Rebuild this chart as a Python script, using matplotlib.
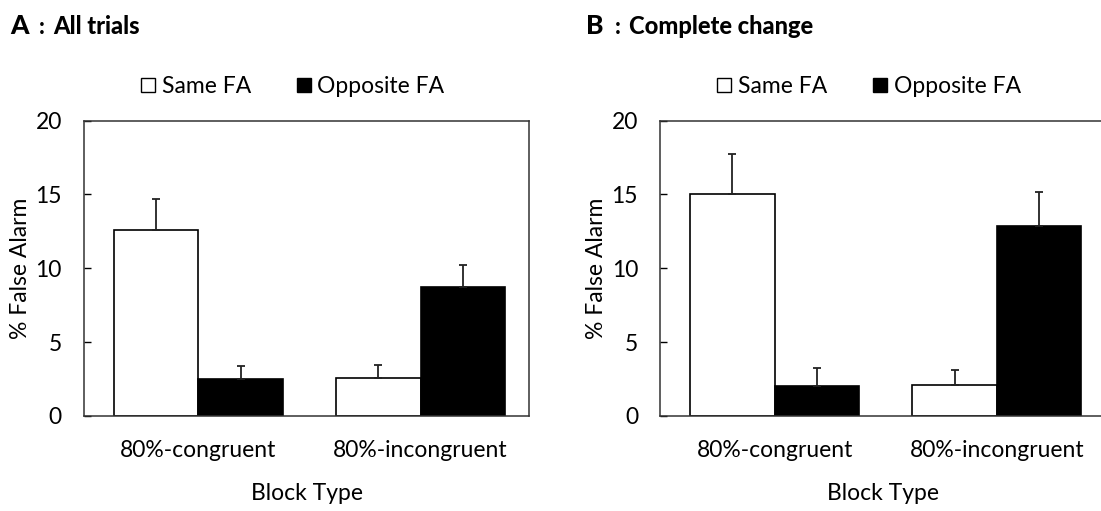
# Two-panel bar chart of false alarm rates by block type
import matplotlib.pyplot as plt
from matplotlib.patches import Patch
import numpy as np

plt.rcParams['font.family'] = ['Lato', 'DejaVu Sans']

# block types on the x axis
block_types = ['80%-congruent', '80%-incongruent']
series_names = ['Same FA', 'Opposite FA']

# panel A: all trials (mean and SE)
all_same = [12.6, 2.6]
all_same_err = [2.07, 0.88]
all_opp = [2.48, 8.76]
all_opp_err = [0.88, 1.47]

# panel B: complete change (mean and SE)
cc_same = [15.0, 2.12]
cc_same_err = [2.76, 1.02]
cc_opp = [2.03, 12.87]
cc_opp_err = [1.24, 2.28]

panels = [
    ('A', 'All trials', all_same, all_same_err, all_opp, all_opp_err),
    ('B', 'Complete change', cc_same, cc_same_err, cc_opp, cc_opp_err),
]

fig = plt.figure(figsize=(11.01, 5.11), dpi=100)

x = np.arange(len(block_types))
w = 0.38
lefts = [0.0763, 0.5997]
fs = 16.5

for left, (letter, name, same, same_err, opp, opp_err) in zip(lefts, panels):
    ax = fig.add_axes([left, 0.186, 0.4045, 0.578])
    ax.bar(x - w / 2, same, w, color='white', edgecolor='black', linewidth=1.2)
    ax.bar(x + w / 2, opp, w, color='black', edgecolor='black', linewidth=1.2)
    ax.errorbar(x - w / 2, same, yerr=[np.zeros(len(same)), same_err],
                fmt='none', ecolor='#222222', elinewidth=1.3, capsize=3, capthick=1.3)
    ax.errorbar(x + w / 2, opp, yerr=[np.zeros(len(opp)), opp_err],
                fmt='none', ecolor='#222222', elinewidth=1.3, capsize=3, capthick=1.3)

    ax.set_xlim(-0.515, 1.49)
    ax.set_ylim(0, 20)
    ax.set_yticks([0, 5, 10, 15, 20])
    ax.set_xticks(x)
    ax.set_xticklabels(block_types)
    ax.tick_params(axis='y', direction='in', length=5, width=1, pad=16, labelsize=fs)
    ax.tick_params(axis='x', length=0, pad=17, labelsize=fs)
    for s in ax.spines.values():
        s.set_color('#333333')
        s.set_linewidth(1.1)
    ax.set_xlabel('Block Type', fontsize=fs, labelpad=16)
    ax.set_ylabel('% False Alarm', fontsize=fs, labelpad=3)

    handles = [Patch(facecolor='white', edgecolor='black', linewidth=1),
               Patch(facecolor='black', edgecolor='black', linewidth=1)]
    ax.legend(handles, series_names, ncol=2, frameon=False, fontsize=fs,
              loc='center', bbox_to_anchor=(0.469, 1.115),
              handlelength=0.6, handleheight=0.6, handletextpad=0.3,
              columnspacing=2.0)

    fx = left - 0.0672
    fig.text(fx, 0.933, letter, fontsize=19, fontweight='black', va='baseline')
    fig.text(fx + 0.026, 0.933, ':', fontsize=16, fontweight='black', va='baseline')
    fig.text(fx + 0.039, 0.933, name, fontsize=17, fontweight='black', va='baseline')

fig.savefig('out.png', dpi=100)
